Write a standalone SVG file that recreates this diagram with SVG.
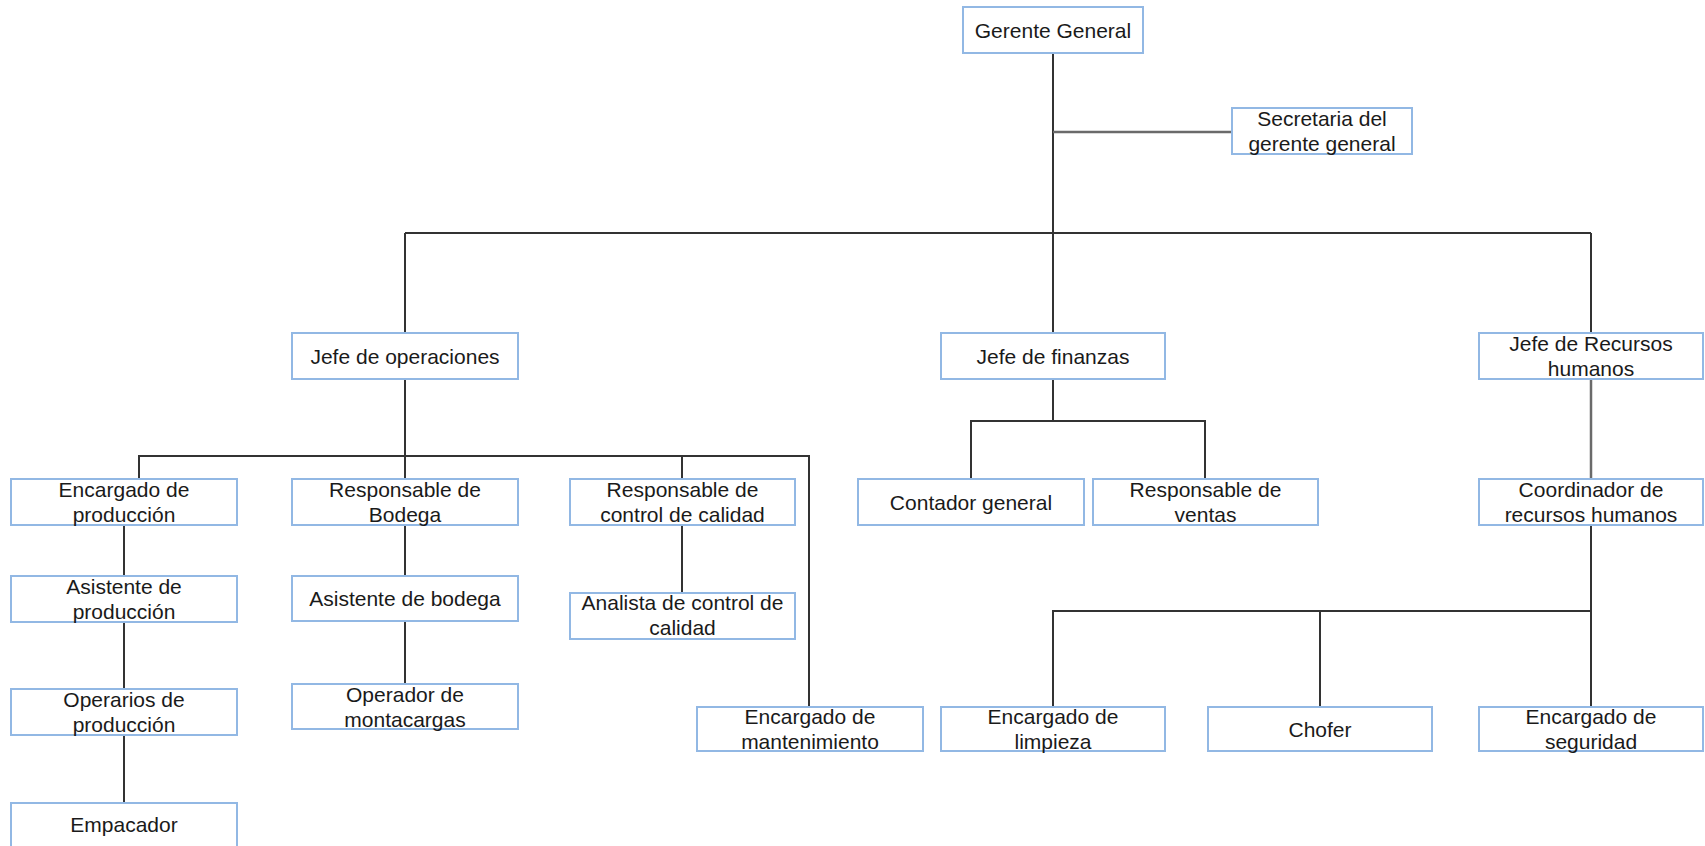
<svg xmlns="http://www.w3.org/2000/svg" width="1705" height="846" viewBox="0 0 1705 846">
<style>
.box{fill:#ffffff;stroke:#92b8e4;stroke-width:2}
.t{font-family:"Liberation Sans",Arial,sans-serif;font-size:21px;fill:#1a1a1a;text-anchor:middle}
.c{fill:none;stroke:#333333;stroke-width:2}
.g{fill:none;stroke:#6a6a6a;stroke-width:2.5}
</style>
<rect width="1705" height="846" fill="#ffffff"/>
<g id="connectors">
<path class="c" d="M1053 53 V333"/>
<path class="g" d="M1053 132 H1232"/>
<path class="c" d="M405 233 H1591 M405 233 V333 M1591 233 V333"/>
<path class="c" d="M405 379 V479 M139 479 V456 H809 V707 M682 456 V479"/>
<path class="c" d="M124 525 V576 M124 622 V689 M124 735 V803"/>
<path class="c" d="M405 525 V576 M405 621 V684"/>
<path class="c" d="M682 525 V593"/>
<path class="c" d="M1053 379 V421 M971 479 V421 H1205 V479"/>
<path class="g" d="M1591 379 V479"/>
<path class="c" d="M1591 525 V707 M1053 707 V611 H1591 M1320 611 V707"/>
</g>
<g id="gerente-general"><rect class="box" x="963" y="7" width="180" height="46"/><text class="t" x="1053" y="37.5">Gerente General</text></g>
<g id="secretaria"><rect class="box" x="1232" y="108" width="180" height="46"/><text class="t" x="1322" y="126">Secretaria del</text><text class="t" x="1322" y="151">gerente general</text></g>
<g id="jefe-operaciones"><rect class="box" x="292" y="333" width="226" height="46"/><text class="t" x="405" y="363.5">Jefe de operaciones</text></g>
<g id="jefe-finanzas"><rect class="box" x="941" y="333" width="224" height="46"/><text class="t" x="1053" y="363.5">Jefe de finanzas</text></g>
<g id="jefe-rrhh"><rect class="box" x="1479" y="333" width="224" height="46"/><text class="t" x="1591" y="351">Jefe de Recursos</text><text class="t" x="1591" y="376">humanos</text></g>
<g id="encargado-produccion"><rect class="box" x="11" y="479" width="226" height="46"/><text class="t" x="124" y="497">Encargado de</text><text class="t" x="124" y="522">producción</text></g>
<g id="responsable-bodega"><rect class="box" x="292" y="479" width="226" height="46"/><text class="t" x="405" y="497">Responsable de</text><text class="t" x="405" y="522">Bodega</text></g>
<g id="responsable-calidad"><rect class="box" x="570" y="479" width="225" height="46"/><text class="t" x="682.5" y="497">Responsable de</text><text class="t" x="682.5" y="522">control de calidad</text></g>
<g id="contador-general"><rect class="box" x="858" y="479" width="226" height="46"/><text class="t" x="971" y="509.5">Contador general</text></g>
<g id="responsable-ventas"><rect class="box" x="1093" y="479" width="225" height="46"/><text class="t" x="1205.5" y="497">Responsable de</text><text class="t" x="1205.5" y="522">ventas</text></g>
<g id="coordinador-rrhh"><rect class="box" x="1479" y="479" width="224" height="46"/><text class="t" x="1591" y="497">Coordinador de</text><text class="t" x="1591" y="522">recursos humanos</text></g>
<g id="asistente-produccion"><rect class="box" x="11" y="576" width="226" height="46"/><text class="t" x="124" y="594">Asistente de</text><text class="t" x="124" y="619">producción</text></g>
<g id="asistente-bodega"><rect class="box" x="292" y="576" width="226" height="45"/><text class="t" x="405" y="606">Asistente de bodega</text></g>
<g id="analista-calidad"><rect class="box" x="570" y="593" width="225" height="46"/><text class="t" x="682.5" y="610">Analista de control de</text><text class="t" x="682.5" y="635">calidad</text></g>
<g id="operarios-produccion"><rect class="box" x="11" y="689" width="226" height="46"/><text class="t" x="124" y="707">Operarios de</text><text class="t" x="124" y="732">producción</text></g>
<g id="operador-montacargas"><rect class="box" x="292" y="684" width="226" height="45"/><text class="t" x="405" y="702">Operador de</text><text class="t" x="405" y="727">montacargas</text></g>
<g id="encargado-mantenimiento"><rect class="box" x="697" y="707" width="226" height="44"/><text class="t" x="810" y="724">Encargado de</text><text class="t" x="810" y="749">mantenimiento</text></g>
<g id="encargado-limpieza"><rect class="box" x="941" y="707" width="224" height="44"/><text class="t" x="1053" y="724">Encargado de</text><text class="t" x="1053" y="749">limpieza</text></g>
<g id="chofer"><rect class="box" x="1208" y="707" width="224" height="44"/><text class="t" x="1320" y="736.5">Chofer</text></g>
<g id="encargado-seguridad"><rect class="box" x="1479" y="707" width="224" height="44"/><text class="t" x="1591" y="724">Encargado de</text><text class="t" x="1591" y="749">seguridad</text></g>
<g id="empacador"><rect class="box" x="11" y="803" width="226" height="50"/><text class="t" x="124" y="832">Empacador</text></g>
</svg>
